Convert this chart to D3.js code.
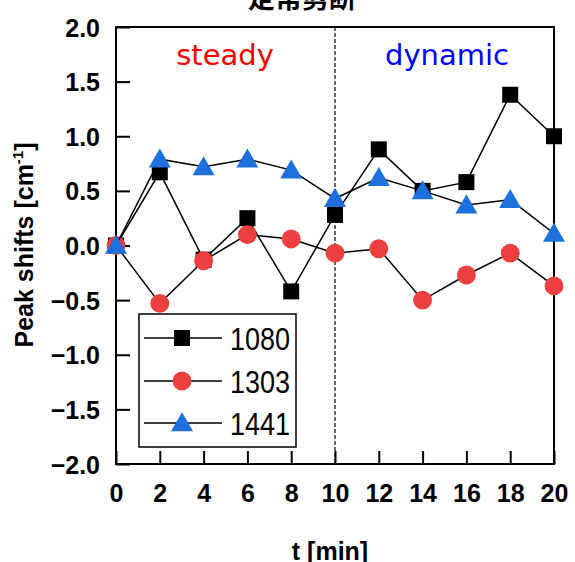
<!DOCTYPE html>
<html>
<head>
<meta charset="utf-8">
<script src="https://cdn.jsdelivr.net/npm/d3@7"></script>
<style>
html,body{margin:0;padding:0;background:#fff;}
svg{display:block;}
</style>
</head>
<body>
<svg id="chart" width="575" height="562"></svg>
<script>
const times = [0, 2, 4, 6, 8, 10, 12, 14, 16, 18, 20];
const s1080 = [0, 0.67, -0.13, 0.25, -0.42, 0.28, 0.88, 0.50, 0.58, 1.38, 1.00];
const s1303 = [0, -0.53, -0.14, 0.10, 0.06, -0.07, -0.03, -0.50, -0.27, -0.07, -0.37];
const s1441 = [0, 0.79, 0.72, 0.79, 0.69, 0.43, 0.62, 0.50, 0.37, 0.42, 0.11];
const seriesNames = ["1080", "1303", "1441"];
const xTicks = [0, 2, 4, 6, 8, 10, 12, 14, 16, 18, 20];
const yTicks = [-2.0, -1.5, -1.0, -0.5, 0.0, 0.5, 1.0, 1.5, 2.0];
const title = "定常剪断";
const xLabel = "t [min]";
const regionLabels = ["steady", "dynamic"];
const dividerTime = 10;

const svg = d3.select("#chart");
const L = 116, R = 554, T = 27, B = 464;
const x = d3.scaleLinear().domain([0, 20]).range([L, R]);
const y = d3.scaleLinear().domain([-2, 2]).range([B, T]);

const styles = [
  {shape: d3.symbolSquare, size: 256, fill: "#000000"},
  {shape: d3.symbolCircle, size: 280, fill: "#EC4040"},
  {shape: d3.symbolTriangle, size: 210, fill: "#1E70DC"}
];
const data = [s1080, s1303, s1441];

// title (partially cut at top)
svg.append("text").attr("x", 302).attr("y", 8).attr("text-anchor", "middle")
  .attr("font-family", "'Noto Sans CJK JP'").attr("font-weight", "bold")
  .attr("font-size", 27).text(title);

// frame
svg.append("rect").attr("x", L).attr("y", T).attr("width", R - L).attr("height", B - T)
  .attr("fill", "none").attr("stroke", "#000").attr("stroke-width", 2);

// ticks inward
const yAxis = d3.axisLeft(y).tickValues(yTicks).tickSize(-14).tickPadding(30)
  .tickFormat(d => d3.format(".1f")(d).replace("-", "\u2212"));
const gy = svg.append("g").attr("transform", `translate(${L},0)`).call(yAxis);
gy.select(".domain").remove();
gy.selectAll(".tick line").attr("stroke", "#000").attr("stroke-width", 2);
gy.selectAll(".tick text").attr("font-family", "'Liberation Sans', Arial, sans-serif")
  .attr("font-weight", "bold").attr("font-size", 25).attr("fill", "#000")
  .attr("x", -16).attr("dy", "0.36em");

const xAxis = d3.axisBottom(x).tickValues(xTicks).tickSize(-13).tickFormat(d3.format("d"));
const gx = svg.append("g").attr("transform", `translate(0,${B})`).call(xAxis);
gx.select(".domain").remove();
gx.selectAll(".tick line").attr("stroke", "#000").attr("stroke-width", 2);
gx.selectAll(".tick text").attr("font-family", "'Liberation Sans', Arial, sans-serif")
  .attr("font-weight", "bold").attr("font-size", 25).attr("fill", "#000")
  .attr("y", 38).attr("dy", 0);

// divider
svg.append("line").attr("x1", x(dividerTime)).attr("x2", x(dividerTime))
  .attr("y1", T).attr("y2", B).attr("stroke", "#000").attr("stroke-width", 1.2)
  .attr("stroke-dasharray", "4,2");

// region labels
svg.append("text").attr("x", 225).attr("y", 65).attr("text-anchor", "middle")
  .attr("font-family", "'DejaVu Sans'").attr("font-size", 29).attr("fill", "#FF0000")
  .text(regionLabels[0]);
svg.append("text").attr("x", 447).attr("y", 65).attr("text-anchor", "middle")
  .attr("font-family", "'DejaVu Sans'").attr("font-size", 29).attr("fill", "#0000FF")
  .text(regionLabels[1]);

// series
const line = d3.line().x((d, i) => x(times[i])).y(d => y(d));
data.forEach((vals, k) => {
  const g = svg.append("g");
  g.append("path").attr("d", line(vals)).attr("fill", "none")
    .attr("stroke", "#000").attr("stroke-width", 1.5);
  const sym = d3.symbol().type(styles[k].shape).size(styles[k].size);
  g.selectAll("path.m").data(vals).enter().append("path").attr("class", "m")
    .attr("d", sym)
    .attr("transform", (d, i) => `translate(${x(times[i])},${y(d) + (k === 2 ? 2 : 0)})`)
    .attr("fill", styles[k].fill);
});

// legend
const lg = svg.append("g");
lg.append("rect").attr("x", 139).attr("y", 314).attr("width", 157).attr("height", 133)
  .attr("fill", "#fff").attr("stroke", "#000").attr("stroke-width", 1.5);
const rowsY = [338, 381, 423];
seriesNames.forEach((name, k) => {
  lg.append("line").attr("x1", 144).attr("x2", 222).attr("y1", rowsY[k]).attr("y2", rowsY[k])
    .attr("stroke", "#000").attr("stroke-width", 1.5);
  lg.append("path").attr("d", d3.symbol().type(styles[k].shape).size(styles[k].size))
    .attr("transform", `translate(182,${rowsY[k] + (k === 2 ? 2 : 0)})`).attr("fill", styles[k].fill);
  lg.append("text").attr("x", 230).attr("y", rowsY[k] + 11.5)
    .attr("font-family", "'Liberation Sans', Arial, sans-serif").attr("font-size", 31)
    .attr("textLength", 60).attr("lengthAdjust", "spacingAndGlyphs").text(name);
});

// axis titles
const yt = svg.append("text").attr("transform", "translate(33,245) rotate(-90)")
  .attr("text-anchor", "middle").attr("font-family", "'Liberation Sans', Arial, sans-serif")
  .attr("font-weight", "bold").attr("font-size", 25);
yt.append("tspan").text("Peak shifts [cm");
yt.append("tspan").attr("font-size", 15).attr("dy", -10).text("-1");
yt.append("tspan").attr("dy", 10).text("]");

svg.append("text").attr("x", 330).attr("y", 560).attr("text-anchor", "middle")
  .attr("font-family", "'Liberation Sans', Arial, sans-serif").attr("font-weight", "bold")
  .attr("font-size", 25).text(xLabel);
</script>
</body>
</html>
